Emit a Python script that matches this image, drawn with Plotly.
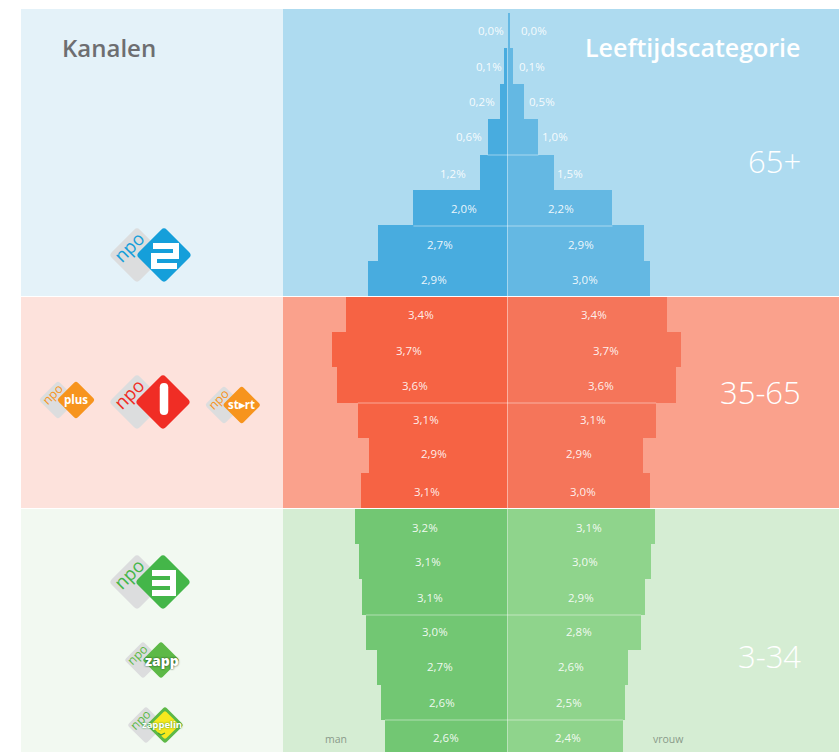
import plotly.graph_objects as go

# ---- data ----
groups = ["65+", "35-65", "3-34"]
# plotted bar lengths (percentage scale)
man_65 = [0.0, 0.08, 0.15, 0.42, 0.57, 1.98, 2.73, 2.94]
vrouw_65 = [0.05, 0.11, 0.34, 0.65, 0.97, 2.21, 2.88, 3.01]
man_35 = [3.40, 3.69, 3.59, 3.15, 2.92, 3.08]
vrouw_35 = [3.36, 3.65, 3.55, 3.13, 2.85, 3.00]
man_3 = [3.21, 3.13, 3.06, 2.98, 2.75, 2.66, 2.58]
vrouw_3 = [3.11, 3.02, 2.89, 2.81, 2.54, 2.47, 2.43]
# printed labels
man_65_lbl = ["0,0%", "0,1%", "0,2%", "0,6%", "1,2%", "2,0%", "2,7%", "2,9%"]
vrouw_65_lbl = ["0,0%", "0,1%", "0,5%", "1,0%", "1,5%", "2,2%", "2,9%", "3,0%"]
man_35_lbl = ["3,4%", "3,7%", "3,6%", "3,1%", "2,9%", "3,1%"]
vrouw_35_lbl = ["3,4%", "3,7%", "3,6%", "3,1%", "2,9%", "3,0%"]
man_3_lbl = ["3,2%", "3,1%", "3,1%", "3,0%", "2,7%", "2,6%", "2,6%"]
vrouw_3_lbl = ["3,1%", "3,0%", "2,9%", "2,8%", "2,6%", "2,5%", "2,4%"]

# ---- layout constants (pixels of the 839x752 page) ----
W, H = 839, 752
CX, PX_PER = 507.5, 47.5
FONT = "Open Sans"
LBL_FONT = "Open Sans"


def px(x):
    return x / W


def py(y):
    return 1 - y / H


def xv(x):
    return (x - CX) / PX_PER


man_lbl_x = [[491, 489, 482, 469, 453, 464, 440, 434],
             [421, 409, 415, 426, 434, 427],
             [425, 428, 430, 435, 440, 442, 446]]
vrouw_lbl_x = [[534, 532, 542, 555, 570, 561, 581, 585],
               [594, 606, 601, 593, 579, 583],
               [589, 585, 581, 579, 571, 569, 568]]
lbl_y = [[31, 67, 102, 137, 173, 208, 244, 279],
         [314, 350, 385, 420, 453, 491],
         [527, 561, 597, 631, 666, 702, 737]]

spec = [
    dict(man=man_65, vrouw=vrouw_65, ml=man_65_lbl, vl=vrouw_65_lbl, top=13, bot=296,
         rows=8, cm="#48ACDF", cv="#64B8E3", bg="#AEDBF0", panel="#E4F2F9", ax="y", p0=9, p1=296),
    dict(man=man_35, vrouw=vrouw_35, ml=man_35_lbl, vl=vrouw_35_lbl, top=297, bot=508,
         rows=6, cm="#F66344", cv="#F5755A", bg="#FAA18C", panel="#FDE2DC", ax="y2", p0=297, p1=508),
    dict(man=man_3, vrouw=vrouw_3, ml=man_3_lbl, vl=vrouw_3_lbl, top=509, bot=752,
         rows=243 / 35.2, cm="#72C773", cv="#8FD48C", bg="#D5EDD3", panel="#F2F9F1", ax="y3", p0=509, p1=752),
]

fig = go.Figure()
shapes, annos = [], []

layout_axes = {}
for gi, s in enumerate(spec):
    idx = list(range(len(s["man"])))
    fig.add_trace(go.Bar(y=idx, x=[-v for v in s["man"]], orientation="h", width=1, name="man",
                         marker=dict(color=s["cm"], line=dict(width=0)), xaxis="x", yaxis=s["ax"],
                         hoverinfo="skip", showlegend=False))
    fig.add_trace(go.Bar(y=idx, x=s["vrouw"], orientation="h", width=1, name="vrouw",
                         marker=dict(color=s["cv"], line=dict(width=0)), xaxis="x", yaxis=s["ax"],
                         hoverinfo="skip", showlegend=False))
    name = "yaxis" if gi == 0 else f"yaxis{gi + 1}"
    layout_axes[name] = dict(domain=[py(s["bot"]), py(s["top"])], range=[s["rows"] - 0.5, -0.5],
                             anchor="x", visible=False, fixedrange=True)
    shapes.append(dict(type="rect", xref="paper", yref="paper", layer="below", line_width=0,
                       x0=px(21), x1=px(283), y0=py(s["p1"]), y1=py(s["p0"]), fillcolor=s["panel"]))
    shapes.append(dict(type="rect", xref="paper", yref="paper", layer="below", line_width=0,
                       x0=px(283), x1=1, y0=py(s["p1"]), y1=py(s["p0"]), fillcolor=s["bg"]))
    for lbls, xs in ((s["ml"], man_lbl_x[gi]), (s["vl"], vrouw_lbl_x[gi])):
        for t, x, y in zip(lbls, xs, lbl_y[gi]):
            annos.append(dict(text=t, x=px(x), y=py(y), xref="paper", yref="paper", showarrow=False,
                              xanchor="center", yanchor="middle",
                              font=dict(family=LBL_FONT, size=11.5, color="rgba(255,255,255,0.9)", weight=400)))

# thin light seams between some rows, only across the narrower neighbouring bars
seams = [(0, 3, 155), (0, 5, 226), (1, 2, 403), (2, 2, 615), (2, 5, 720)]
for gi, r, y in seams:
    s = spec[gi]
    shapes.append(dict(type="line", xref="x", yref="paper", x0=-min(s["man"][r], s["man"][r + 1]),
                       x1=min(s["vrouw"][r], s["vrouw"][r + 1]), y0=py(y), y1=py(y),
                       line=dict(color="rgba(255,255,255,0.45)", width=1)))
# centre line
shapes.append(dict(type="line", xref="x", yref="paper", x0=0, x1=0, y0=py(48), y1=0,
                   line=dict(color="rgba(255,255,255,0.5)", width=1)))


def text(t, x, y, size, color="#FFFFFF", anchor="center", weight=400, family=FONT, angle=0, shadow=None):
    f = dict(family=family, size=size, color=color, weight=weight)
    if shadow:
        f["shadow"] = shadow
    annos.append(dict(text=t, x=px(x), y=py(y), xref="paper", yref="paper", showarrow=False, xanchor=anchor,
                      yanchor="middle", textangle=angle, font=f))


text("Kanalen", 109, 47, 24, "#6D6E71", weight=600)
text("Leeftijdscategorie", 803, 47, 25, anchor="right", weight=600)
text("65+", 803, 161, 31, anchor="right", weight=300)
text("35-65", 803, 392, 31, anchor="right", weight=300)
text("3-34", 803, 656, 31, anchor="right", weight=300)
text("man", 336, 739, 10.5, "#8A9A8A")
text("vrouw", 668, 739, 10.5, "#8A9A8A")


# ---- channel logos, drawn as vector shapes ----
def P(x, y):
    return f"{x / W:.5f},{1 - y / H:.5f}"


def to_paper(d):
    res = []
    for tok in d.split(" "):
        cmd = tok[0] if tok[0].isalpha() else ""
        body = tok[1:] if cmd else tok
        if body:
            a, b = body.split(",")
            res.append(f"{cmd}{P(float(a), float(b))}")
        else:
            res.append(cmd)
    return " ".join(res)


def pixel_path(d, fill=None, line=None, width=0):
    shapes.append(dict(type="path", xref="paper", yref="paper", path=to_paper(d),
                       fillcolor=fill if fill else "rgba(0,0,0,0)",
                       line=dict(color=line if line else "rgba(0,0,0,0)", width=width if line else 0)))


def diamond(cx, cy, r, color):
    r = r * 1.04
    c = r * 0.1
    d = (f"M{cx - c},{cy - r + c} Q{cx},{cy - r} {cx + c},{cy - r + c} "
         f"L{cx + r - c},{cy - c} Q{cx + r},{cy} {cx + r - c},{cy + c} "
         f"L{cx + c},{cy + r - c} Q{cx},{cy + r} {cx - c},{cy + r - c} "
         f"L{cx - r + c},{cy + c} Q{cx - r},{cy} {cx - r + c},{cy - c} Z")
    pixel_path(d, fill=color)


def stroke(points, width=6, color="#FFFFFF"):
    d = "M" + " L".join(f"{x},{y}" for x, y in points)
    pixel_path(d, line=color, width=width)


def pill(cx, y0, y1, w, color="#FFFFFF"):
    h = w / 2
    d = (f"M{cx - h},{y0 + h} Q{cx - h},{y0} {cx},{y0} Q{cx + h},{y0} {cx + h},{y0 + h} "
         f"L{cx + h},{y1 - h} Q{cx + h},{y1} {cx},{y1} Q{cx - h},{y1} {cx - h},{y1 - h} Z")
    pixel_path(d, fill=color)


def logo_base(gx, cx, cy, r, color):
    diamond(gx, cy, r, "#DCDDDE")
    diamond(cx, cy, r, color)
    text("npo", gx - r * 0.31, cy - r * 0.31, r * 0.68, color, weight=500, angle=-45)


logo_base(137, 164, 255, 27, "#159FDA")
stroke([(153, 246), (176, 246), (176, 256), (154, 256), (154, 266), (177, 266)])
logo_base(137, 163, 402, 27, "#F02D25")
pill(164, 383, 415, 8.5)
logo_base(137, 163, 582, 27, "#44B649")
stroke([(152, 573), (173, 573), (173, 593), (152, 593)])
stroke([(152, 583), (173, 583)])
logo_base(58, 76, 400, 18.4, "#F7941D")
text("plus", 76, 399, 11.5, weight=700)
logo_base(224, 241.7, 405, 18.4, "#F7941D")
text("st▸rt", 241.7, 404, 11.5, weight=700)
logo_base(143, 161, 660, 18, "#5DB947")
text("zapp", 162, 660, 14, weight=800, shadow="0 0 2px #123312")
logo_base(146, 165, 725, 18, "#5DB947")
diamond(165, 725, 14, "#F7E81E")
text("zappelin", 162, 724, 9.5, weight=700, shadow="0 0 2px #2E8B2E")
stroke([(158, 733), (161, 735), (165, 733)], width=1.2, color="#3E9B3E")

fig.update_layout(
    width=W, height=H, margin=dict(l=0, r=0, t=0, b=0), autosize=False,
    paper_bgcolor="#FFFFFF", plot_bgcolor="rgba(0,0,0,0)", barmode="overlay", bargap=0,
    showlegend=False, shapes=shapes, annotations=annos, font=dict(family=FONT),
    xaxis=dict(range=[xv(0), xv(W)], visible=False, fixedrange=True, domain=[0, 1]),
    **layout_axes,
)
fig.write_html("out.html", config={"displayModeBar": False},
               post_script="document.body.style.margin='0';document.documentElement.style.overflow='hidden';")
